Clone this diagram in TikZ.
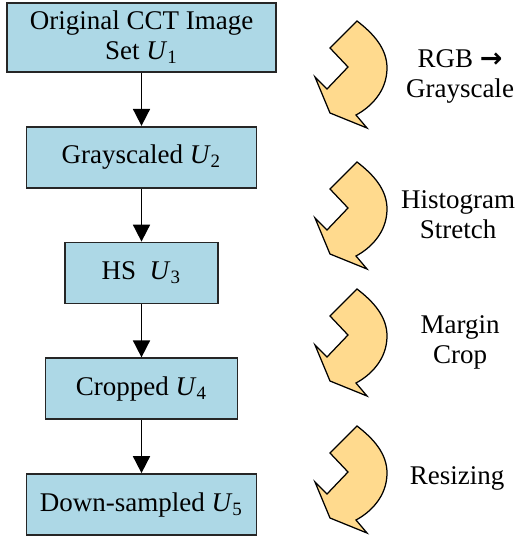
\documentclass[tikz,border=0pt]{standalone}
\usepackage{fontspec}
\setmainfont{Liberation Serif}
\newfontfamily\arrowfont{DejaVu Sans}
\usepackage{tikz}
\usetikzlibrary{arrows.meta, positioning}
\usepackage{xcolor}
\definecolor{boxblue}{RGB}{173,216,230}
\definecolor{bendyellow}{RGB}{255,218,142}
\newcommand{\usub}[1]{\textit{U}\textsubscript{#1}}

\begin{document}
\begin{tikzpicture}[
        x=0.4pt, y=-0.4pt,
        node distance=21.2pt,
        font=\fontsize{10.8}{12}\selectfont,
        stage/.style={draw=black!85, line width=0.7pt, rectangle, fill=boxblue, minimum height=24.4pt, inner sep=2pt, align=center},
        flow/.style={-{Triangle[length=6.8pt, width=6.8pt]}, line width=0.7pt},
        bendshape/.style={draw=black, line width=0.5pt, fill=bendyellow, line join=miter},
        bendarrow/.pic={
            \path[bendshape] (0,0) -- (-27,27) -- (-9,46) -- (-30,68) -- (-42,56) -- (-27,92)
                -- (10,107) -- (-1,94) .. controls (14,86) and (30,70) .. (30,47)
                .. controls (30,28) and (17,13) .. (0,0) -- cycle;
        }
    ]
        \useasboundingbox (0,0) rectangle (515,539);

        % Nodes
        \node (orig) [stage, minimum width=107.6pt, minimum height=27.6pt] at (141.5,37.5) {Original CCT Image\\Set \usub{1}};
        \node (gray) [stage, minimum width=92pt, below=of orig] {Grayscaled \usub{2}};
        \node (hs) [stage, minimum width=61.2pt, below=of gray] {HS~~\usub{3}};
        \node (crop) [stage, minimum width=76.8pt, below=of hs] {Cropped \usub{4}};
        \node (down) [stage, minimum width=92pt, below=of crop] {Down-sampled \usub{5}};

        % Wires
        \draw[flow] (orig) -- (gray);
        \draw[flow] (gray) -- (hs);
        \draw[flow] (hs) -- (crop);
        \draw[flow] (crop) -- (down);

        % Steps
        \pic at (357,21) {bendarrow};
        \pic at (357,162) {bendarrow};
        \pic at (357,289) {bendarrow};
        \pic at (357,426) {bendarrow};

        \node (rgb) [align=center] at (460,76) {RGB {\arrowfont\bfseries →}\\Grayscale};
        \node (histo) [align=center] at (458,215) {Histogram\\Stretch};
        \node (margin) [align=center] at (460,342) {Margin\\Crop};
        \node (resize) at (457,478) {Resizing};

    \end{tikzpicture}
\end{document}
